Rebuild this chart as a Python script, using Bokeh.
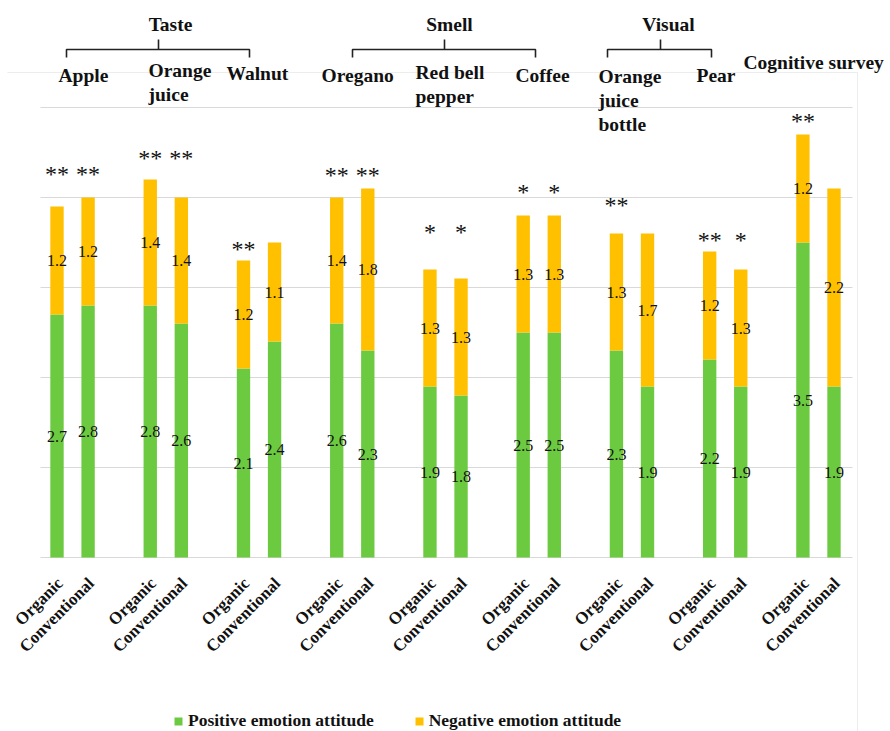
import math

from bokeh.core.properties import value
from bokeh.embed import file_html
from bokeh.models import ColumnDataSource, FactorRange, Legend, LegendItem, Range1d
from bokeh.plotting import figure
from bokeh.resources import INLINE

# ---------------------------------------------------------------- data
products = ["Apple", "Orange juice", "Walnut", "Oregano", "Red bell pepper",
            "Coffee", "Orange juice bottle", "Pear", "Cognitive survey"]
kinds = ["Organic", "Conventional"]

positive_organic = [2.7, 2.8, 2.1, 2.6, 1.9, 2.5, 2.3, 2.2, 3.5]
positive_conventional = [2.8, 2.6, 2.4, 2.3, 1.8, 2.5, 1.9, 1.9, 1.9]
negative_organic = [1.2, 1.4, 1.2, 1.4, 1.3, 1.3, 1.3, 1.2, 1.2]
negative_conventional = [1.2, 1.4, 1.1, 1.8, 1.3, 1.3, 1.7, 1.3, 2.2]

stars_organic = ["**", "**", "**", "**", "*", "*", "**", "**", "**"]
stars_conventional = ["**", "**", "", "**", "*", "*", "", "*", ""]

series_names = ["Positive emotion attitude", "Negative emotion attitude"]
senses = ["Taste", "Smell", "Visual"]
gridline_values = [0, 1, 2, 3, 4, 5]

# ---------------------------------------------------------------- layout
W, H = 890, 731
GREEN = "#6CCA40"
ORANGE = "#FFC000"
SERIF = "'Liberation Serif', 'DejaVu Serif', serif"

GROUP_PAD = 1.0
N_FACTORS = 2 * len(products)
SPAN = N_FACTORS + GROUP_PAD * (len(products) - 1)
RANGE_PAD = 0.1014
PX_PER_FACTOR = W / (SPAN * (1 + RANGE_PAD))
X_START = -SPAN * RANGE_PAD / 2

BASE_PY = 557          # pixel row of the value axis zero
PX_PER_VALUE = 90      # pixels per unit of attitude score


def sx(px):
    """screen column -> synthetic x coordinate"""
    return px / PX_PER_FACTOR + X_START


def sy(py):
    """screen row -> value coordinate"""
    return (BASE_PY - py) / PX_PER_VALUE


# heights (in score units) at which the significance stars sit
star_level_organic = [4.23, 4.41, 3.40, 4.22, 3.58, 4.03, 3.88, 3.50, 4.82]
star_level_conventional = [4.23, 4.41, 0, 4.22, 3.58, 4.03, 0, 3.50, 0]

# ---------------------------------------------------------------- sources
x_factors, pos, neg, stars, star_y = [], [], [], [], []
for i, prod in enumerate(products):
    x_factors += [(prod, kinds[0]), (prod, kinds[1])]
    pos += [positive_organic[i], positive_conventional[i]]
    neg += [negative_organic[i], negative_conventional[i]]
    stars += [stars_organic[i], stars_conventional[i]]
    star_y += [star_level_organic[i], star_level_conventional[i]]

bars = ColumnDataSource(dict(
    x=x_factors, pos=pos, neg=neg,
    pos_mid=[v / 2 for v in pos],
    neg_mid=[a + b / 2 for a, b in zip(pos, neg)],
    pos_txt=[f"{v:.1f}" for v in pos],
    neg_txt=[f"{v:.1f}" for v in neg],
    stars=stars, star_y=star_y,
    kind=[f[1] for f in x_factors],
    kind_y=[sy(580)] * len(x_factors),
))

p = figure(width=W, height=H, output_backend="svg", toolbar_location=None,
           x_range=FactorRange(*x_factors, group_padding=GROUP_PAD,
                               range_padding=RANGE_PAD,
                               range_padding_units="percent"),
           y_range=Range1d(sy(H), sy(0)),
           x_axis_location=None, y_axis_location=None,
           min_border=0, outline_line_color=None)
p.grid.visible = False
p.background_fill_color = "white"
p.border_fill_color = "white"

# faint chart-area border
p.segment(x0=[sx(7), sx(857)], y0=[sy(72), sy(72)],
          x1=[sx(857), sx(857)], y1=[sy(72), sy(H)],
          line_color="#EDEDED", line_width=1)

# horizontal gridlines
p.segment(x0=[sx(40)] * len(gridline_values), x1=[sx(852)] * len(gridline_values),
          y0=gridline_values, y1=gridline_values,
          line_color="#D9D9D9", line_width=1.2)

# stacked bars
renderers = p.vbar_stack(["pos", "neg"], x="x", width=0.43, source=bars,
                         fill_color=[GREEN, ORANGE], line_color=None)

# values inside the segments
p.text(x="x", y="pos_mid", text="pos_txt", source=bars,
       text_font=value(SERIF), text_font_size="16px", text_color="#111111",
       text_align="center", text_baseline="middle")
p.text(x="x", y="neg_mid", text="neg_txt", source=bars,
       text_font=value(SERIF), text_font_size="16px", text_color="#111111",
       text_align="center", text_baseline="middle")

# significance stars
p.text(x="x", y="star_y", text="stars", source=bars,
       text_font=value(SERIF), text_font_size="24px", text_color="#111111",
       text_align="center", text_baseline="middle", y_offset=-3)

# rotated Organic / Conventional labels
p.text(x="x", y="kind_y", text="kind", source=bars, angle=math.pi / 4,
       x_offset=3,
       text_font=value(SERIF), text_font_size="17px", text_font_style="bold",
       text_color="#111111", text_align="right", text_baseline="middle")

# product names above the bars (left edge px, top px)
header_labels = [
    ("Apple", 58, 64),
    ("Orange\njuice", 148, 59),
    ("Walnut", 226, 62),
    ("Oregano", 321, 64),
    ("Red bell\npepper", 415, 61),
    ("Coffee", 515, 64),
    ("Orange\njuice\nbottle", 598, 65),
    ("Pear", 696, 64),
    ("Cognitive survey", 743, 51),
]
p.text(x=[sx(h[1]) for h in header_labels], y=[sy(h[2]) for h in header_labels],
       text=[h[0] for h in header_labels],
       text_font=value(SERIF), text_font_size="19.5px", text_font_style="bold",
       text_color="#111111", text_align="left", text_baseline="top",
       text_line_height=1.15)

# sense brackets: (name, left px, right px, centre tick px, text centre px)
brackets = [("Taste", 66, 249, 158, 170),
            ("Smell", 352, 535, 444, 449),
            ("Visual", 607, 711, 660, 668)]
BR_Y, BR_FOOT, BR_TICK = 49, 57, 39
xs, ys = [], []
for _, l, r, c, _t in brackets:
    xs.append([sx(l), sx(l), sx(r), sx(r)])
    ys.append([sy(BR_FOOT), sy(BR_Y), sy(BR_Y), sy(BR_FOOT)])
    xs.append([sx(c), sx(c)])
    ys.append([sy(BR_Y), sy(BR_TICK)])
p.multi_line(xs=xs, ys=ys, line_color="#222222", line_width=1.6)
p.text(x=[sx(b[4]) for b in brackets], y=[sy(24)] * len(brackets),
       text=[b[0] for b in brackets],
       text_font=value(SERIF), text_font_size="19.5px", text_font_style="bold",
       text_color="#111111", text_align="center", text_baseline="middle")

# legend at the bottom
legend = Legend(items=[LegendItem(label=series_names[0], renderers=[renderers[0]]),
                       LegendItem(label=series_names[1], renderers=[renderers[1]])],
                location=(173, 0), orientation="horizontal",
                glyph_width=10, glyph_height=10, label_standoff=5, spacing=40,
                padding=0, margin=0, border_line_color=None,
                background_fill_alpha=0,
                label_text_font=SERIF, label_text_font_size="17.5px",
                label_text_font_style="bold", label_text_color="#111111")
p.add_layout(legend)

open("out.html", "w").write(file_html(p, INLINE))
